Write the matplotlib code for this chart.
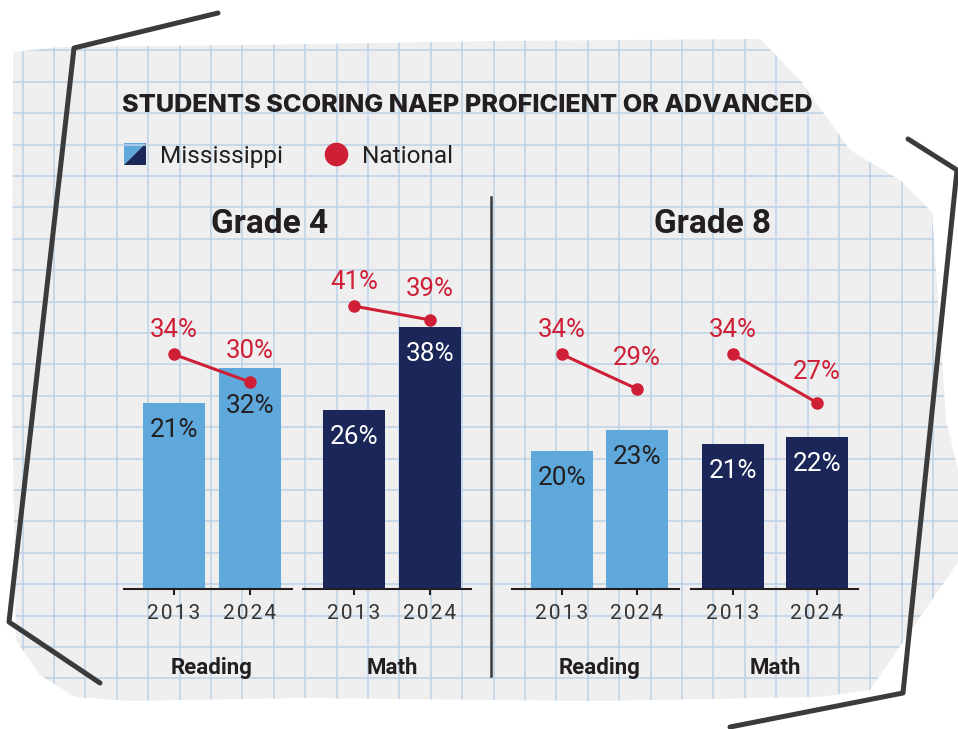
import matplotlib.pyplot as plt
import numpy as np
from matplotlib.patches import Polygon

plt.rcParams['font.family'] = ['Roboto', 'DejaVu Sans']

# data
grades = ['Grade 4', 'Grade 8']
subjects = ['Reading', 'Math']
years = ['2013', '2024']
# one entry per (grade, subject) group
ms_values = [[21, 32], [26, 38], [20, 23], [21, 22]]
# heights as drawn in the source graphic (its 2013 grade 4 reading bar is drawn taller than 21)
ms_heights = [[27, 32], [26, 38], [20, 23], [21, 22]]
national = [[34, 30], [41, 39], [34, 29], [34, 27]]

LIGHT = '#5fa8db'
NAVY = '#1b2759'
RED = '#cf1f36'
INK = '#231f20'
W, H = 958, 729

fig = plt.figure(figsize=(W / 100, H / 100), dpi=100)
fig.patch.set_facecolor('white')

# background: torn paper with grid, pixel coordinates
bg = fig.add_axes([0, 0, 1, 1], zorder=0)
bg.set_xlim(0, W)
bg.set_ylim(H, 0)
bg.axis('off')

paper_pts = [(14, 52), (60, 47), (250, 45), (500, 41), (760, 39), (800, 80), (850, 150),
             (900, 180), (932, 212), (938, 300), (946, 420), (958, 470), (958, 562), (870, 690),
             (820, 697), (600, 701), (300, 698), (130, 701), (75, 697), (40, 675),
             (16, 640), (12, 400), (13, 60)]
paper = Polygon(paper_pts, closed=True, facecolor='#efefef', edgecolor='none')
bg.add_patch(paper)
step = 31.4
gx = np.arange(22.6, W, step)
gy = np.arange(19.0, H, step)
vl = bg.vlines(gx, 0, H, color='#bcd2e8', lw=1.1)
hl = bg.hlines(gy, 0, W, color='#bcd2e8', lw=1.1)
vl.set_clip_path(paper)
hl.set_clip_path(paper)

# hand drawn frame
frame_kw = dict(color='#3b3b3b', lw=3.6, solid_capstyle='round', solid_joinstyle='round')
bg.plot([218, 74, 9, 100], [13, 48, 622, 683], **frame_kw)
bg.plot([908, 957, 903, 730], [139, 170, 693, 727], **frame_kw)

# title and legend
bg.text(122, 112, 'STUDENTS SCORING NAEP PROFICIENT OR ADVANCED', fontsize=18.2,
        fontweight='heavy', color=INK, va='baseline', family=['Inter', 'Roboto'])
bg.add_patch(Polygon([(124, 143), (146, 143), (124, 165)], closed=True, facecolor=LIGHT))
bg.add_patch(Polygon([(146, 143), (146, 165), (124, 165)], closed=True, facecolor=NAVY))
bg.text(160, 163, 'Mississippi', fontsize=17.6, color=INK, va='baseline')
bg.plot([336], [154], 'o', ms=16, color=RED)
bg.text(362, 163, 'National', fontsize=17.6, color=INK, va='baseline')

# panel headers and divider
bg.text(270, 233, grades[0], fontsize=24, fontweight='bold', color=INK, ha='center', va='baseline')
bg.text(713, 233, grades[1], fontsize=24, fontweight='bold', color=INK, ha='center', va='baseline')
bg.plot([491, 491], [197, 676], color='#3b3b3b', lw=1.8)

# group layout in pixels: baseline left, baseline right, bar centre 2013, bar centre 2024
layout = [(124, 292, 174, 250), (303, 471, 354, 430), (512, 679, 562, 637), (691, 858, 733, 817)]
base_y = 589
px_per_pct = 6.9
top_y = 200
bar_px = 62
PT = 72 / 100  # points per pixel
year_labels = ['\u200a'.join(y) for y in years]

for g, (L, R, c0, c1) in enumerate(layout):
    s = c1 - c0
    ax = fig.add_axes([L / W, 1 - base_y / H, (R - L) / W, (base_y - top_y) / H], zorder=2)
    ax.set_facecolor('none')
    ax.set_xlim((L - c0) / s, (R - c0) / s)
    ax.set_ylim(0, (base_y - top_y) / px_per_pct)
    for side in ['top', 'right', 'left']:
        ax.spines[side].set_visible(False)
    ax.spines['bottom'].set_color(INK)
    ax.spines['bottom'].set_linewidth(1.5)
    ax.set_yticks([])
    xs = np.array([0, 1])
    ax.set_xticks(xs, year_labels)
    ax.tick_params(axis='x', length=6 * PT, width=1.5, color=INK, pad=6.5,
                   labelsize=15, labelcolor='#333333')

    subj = subjects[g % 2]
    color = LIGHT if subj == 'Reading' else NAVY
    txt = INK if subj == 'Reading' else 'white'
    ax.bar(xs, ms_heights[g], width=bar_px / s, color=color, zorder=2)
    for x, h, v, n in zip(xs, ms_heights[g], ms_values[g], national[g]):
        # push the label down when the national dot sits inside the bar
        off = -38 if n < h else -27
        ax.annotate(f'{v}%', (x, h), xytext=(0, off * PT), textcoords='offset points',
                    ha='center', va='center', fontsize=18.8, color=txt, zorder=3)

    ax.plot(xs, national[g], color=RED, lw=2.2, marker='o', ms=8, zorder=4, clip_on=False)
    for x, v, off in zip(xs, national[g], [24, 31]):
        ax.annotate(f'{v}%', (x, v), xytext=(0, off * PT), textcoords='offset points',
                    ha='center', va='center', fontsize=18.5, color=RED, zorder=4)

    ax.annotate(subj, (0.5, 0), xytext=(0, -79 * PT), textcoords='offset points',
                ha='center', va='center', fontsize=16, fontweight='bold', color=INK,
                annotation_clip=False)

fig.savefig('out.png', dpi=100, facecolor='white')
